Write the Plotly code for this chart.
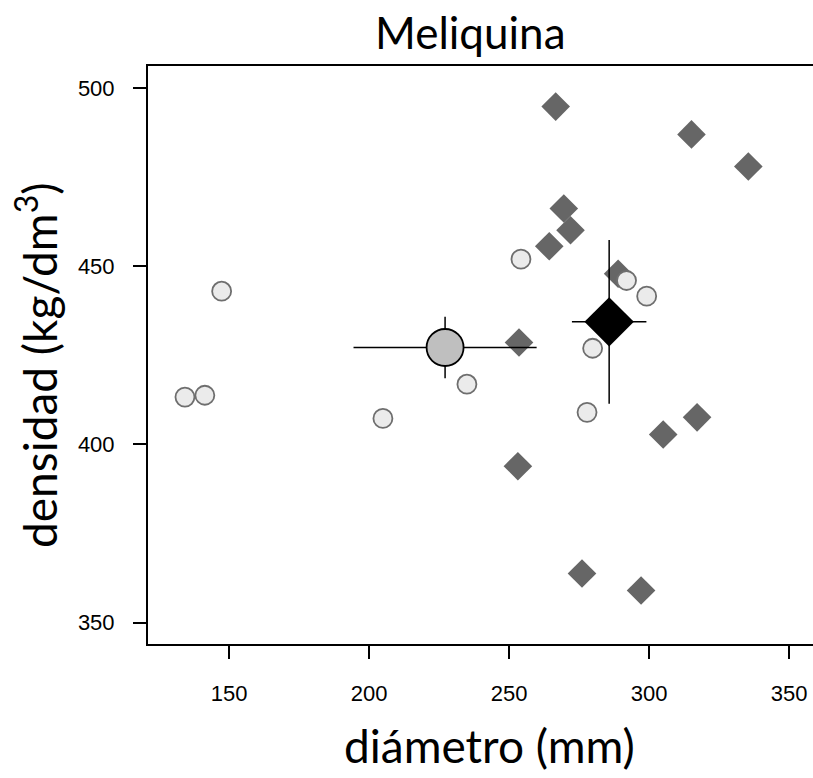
import plotly.graph_objects as go

# --- data ---
circle_x = [134.2, 141.3, 147.3, 204.9, 234.9, 254.2, 279.8, 277.8, 291.9, 299.1]
circle_y = [413.3, 413.8, 443.0, 407.3, 416.9, 452.0, 427.0, 409.0, 446.0, 441.6]

diamond_x = [266.6, 315.1, 335.4, 269.5, 271.9, 264.3, 288.9, 253.5, 253.1, 305.0, 317.1, 276.0, 297.1]
diamond_y = [494.8, 487.0, 478.0, 466.2, 460.1, 455.6, 447.9, 428.6, 393.9, 402.8, 407.6, 363.8, 359.0]

mean_circle = {"x": 227.1, "y": 427.2, "ex": 32.7, "ey": 8.6}
mean_diamond = {"x": 285.7, "y": 434.4, "ex": 13.3, "ey": 23.0}

x_ticks = [150, 200, 250, 300, 350]
y_ticks = [350, 400, 450, 500]

title_text = "Meliquina"
x_title = "diámetro (mm)"
y_title = "densidad (kg/dm<sup>3</sup>)"

# --- figure ---
W, H = 813, 778
ML, MR, MT, MB = 148, 0, 66, 134
pw, ph = W - ML - MR, H - MT - MB

def px(x):
    return (x - ML) / pw

def py(y):
    return (H - MB - y) / ph

fig = go.Figure()

fig.add_trace(go.Scatter(
    x=diamond_x, y=diamond_y, mode="markers",
    marker=dict(symbol="diamond", size=22, color="#666666", line=dict(width=0)),
    showlegend=False, hoverinfo="skip"))

fig.add_trace(go.Scatter(
    x=circle_x, y=circle_y, mode="markers",
    marker=dict(symbol="circle", size=19, color="#ebebeb", line=dict(width=1.8, color="#6e6e6e")),
    showlegend=False, hoverinfo="skip"))

fig.add_trace(go.Scatter(
    x=[mean_circle["x"]], y=[mean_circle["y"]], mode="markers",
    error_x=dict(type="data", array=[mean_circle["ex"]], width=0, thickness=1.5, color="black"),
    error_y=dict(type="data", array=[mean_circle["ey"]], width=0, thickness=1.5, color="black"),
    marker=dict(symbol="circle", size=37, color="#bfbfbf", line=dict(width=1.8, color="black")),
    showlegend=False, hoverinfo="skip"))

fig.add_trace(go.Scatter(
    x=[mean_diamond["x"]], y=[mean_diamond["y"]], mode="markers",
    error_x=dict(type="data", array=[mean_diamond["ex"]], width=0, thickness=1.5, color="black"),
    error_y=dict(type="data", array=[mean_diamond["ey"]], width=0, thickness=1.5, color="black"),
    marker=dict(symbol="diamond", size=38, color="black", line=dict(width=0)),
    showlegend=False, hoverinfo="skip"))

tick_font = dict(family="Liberation Sans, Arial, sans-serif", size=22, color="black")
title_font = "Lato, Calibri, sans-serif"

fig.update_layout(
    width=W, height=H,
    margin=dict(l=ML, r=MR, t=MT, b=MB, pad=0),
    paper_bgcolor="white", plot_bgcolor="white",
    xaxis=dict(range=[121.0, 358.5], tickvals=x_ticks, ticks="outside", ticklen=13, tickwidth=2,
               tickcolor="black", showline=True, linewidth=2, linecolor="black", mirror=True,
               showgrid=False, zeroline=False, tickfont=tick_font, ticklabelstandoff=16,
               fixedrange=True),
    yaxis=dict(range=[344.0, 506.2], tickvals=y_ticks, ticks="outside", ticklen=13, tickwidth=2,
               tickcolor="black", showline=True, linewidth=2, linecolor="black", mirror=False,
               showgrid=False, zeroline=False, tickfont=tick_font, ticklabelstandoff=14,
               fixedrange=True),
    annotations=[
        dict(text=title_text, x=px(470), y=py(32), xref="paper", yref="paper",
             xanchor="center", yanchor="middle", showarrow=False,
             font=dict(family=title_font, size=44, color="black")),
        dict(text=x_title, x=px(489), y=py(745), xref="paper", yref="paper",
             xanchor="center", yanchor="middle", showarrow=False,
             font=dict(family=title_font, size=46, color="black")),
        dict(text=y_title, x=px(36), y=py(365), xref="paper", yref="paper",
             xanchor="center", yanchor="middle", showarrow=False, textangle=-90,
             font=dict(family=title_font, size=46, color="black")),
    ],
)

fig.write_html(
    "out.html",
    config={"displayModeBar": False, "staticPlot": True},
    post_script="document.body.style.margin='0';document.body.style.overflow='hidden';",
)
